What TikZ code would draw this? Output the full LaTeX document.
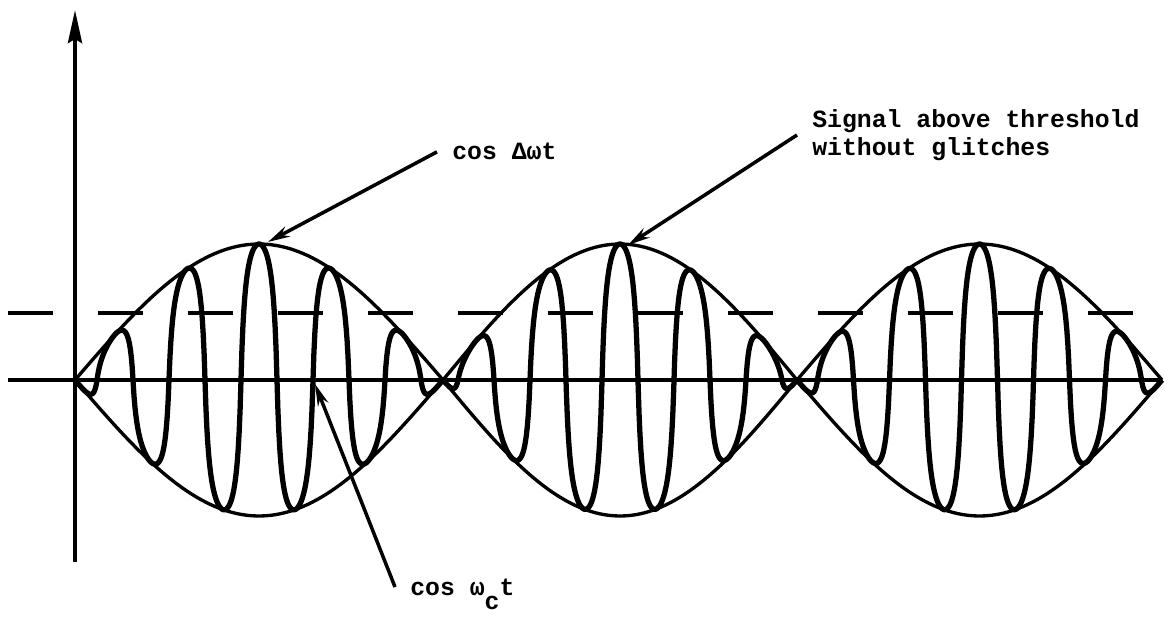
\documentclass[tikz,border=0pt]{standalone}
\usepackage{fontspec}
\setmonofont{Liberation Mono}
\usetikzlibrary{arrows.meta, positioning}
\tikzset{
	labeltext/.style={font=\fontsize{14.1}{15.9}\selectfont\ttfamily\bfseries, inner ysep=0pt, inner xsep=0.3cm}
}
\tikzset{
	pointer/.style={-{Stealth[length=0.44cm, width=0.22cm]}, line width=2pt}
}
\tikzset{
	axisline/.style={line width=2.4pt},
	envelope/.style={line width=1.9pt},
	carrier/.style={line width=3pt, line join=round}
}
\begin{document}
\begin{tikzpicture}[x=0.02cm, y=-0.02cm]
	\useasboundingbox (0,0) rectangle (1165,624);
	\coordinate (yaxbot) at (75,562);
	\coordinate (yaxtop) at (75,10);
	\coordinate (xaxl) at (8,380);
	\coordinate (xaxr) at (1162,380);
	\coordinate (thl) at (8,313);
	\coordinate (thr) at (1135,313);
	\draw[axisline, -{Stealth[length=0.66cm, width=0.28cm, inset=0.08cm]}] (yaxbot) -- (yaxtop);
	\draw[axisline] (xaxl) -- (xaxr);
	\draw[axisline, dash pattern=on 0.9cm off 0.9cm] (thl) -- (thr);
	% envelope lobes and carrier
	\foreach \a/\b in {75/443, 443/797, 797/1162} {
		\draw[envelope] plot[domain=\a:\b, samples=80] (\x, {380-136*sin((\x-\a)/(\b-\a)*180)});
		\draw[envelope] plot[domain=\a:\b, samples=80] (\x, {380+136*sin((\x-\a)/(\b-\a)*180)});
		\draw[carrier] plot[domain=\a:\b, samples=400] (\x, {380-136*sin((\x-\a)/(\b-\a)*180)*cos(5*(\x-0.5*\a-0.5*\b))/(0.3+0.7*abs(cos(5*(\x-0.5*\a-0.5*\b))))});
	}
	\node[labeltext, anchor=base west] (dwtext) at (437,160) {cos Δωt};
	\node[labeltext, anchor=west, align=left] (sigtext) at (797,135) {Signal above threshold\\without glitches};
	\node[labeltext, anchor=base west] (wctext) at (395,595) {cos ω\raisebox{-8pt}{c}t};
	\coordinate (peakA) at (268,242);
	\coordinate (peakB) at (628,245);
	\coordinate (zeroC) at (315,384);
	\draw[pointer] (dwtext.west) -- (peakA);
	\draw[pointer] (sigtext.west) -- (peakB);
	\draw[pointer] ([yshift=0.16cm]wctext.base west) -- (zeroC);
\end{tikzpicture}
\end{document}
